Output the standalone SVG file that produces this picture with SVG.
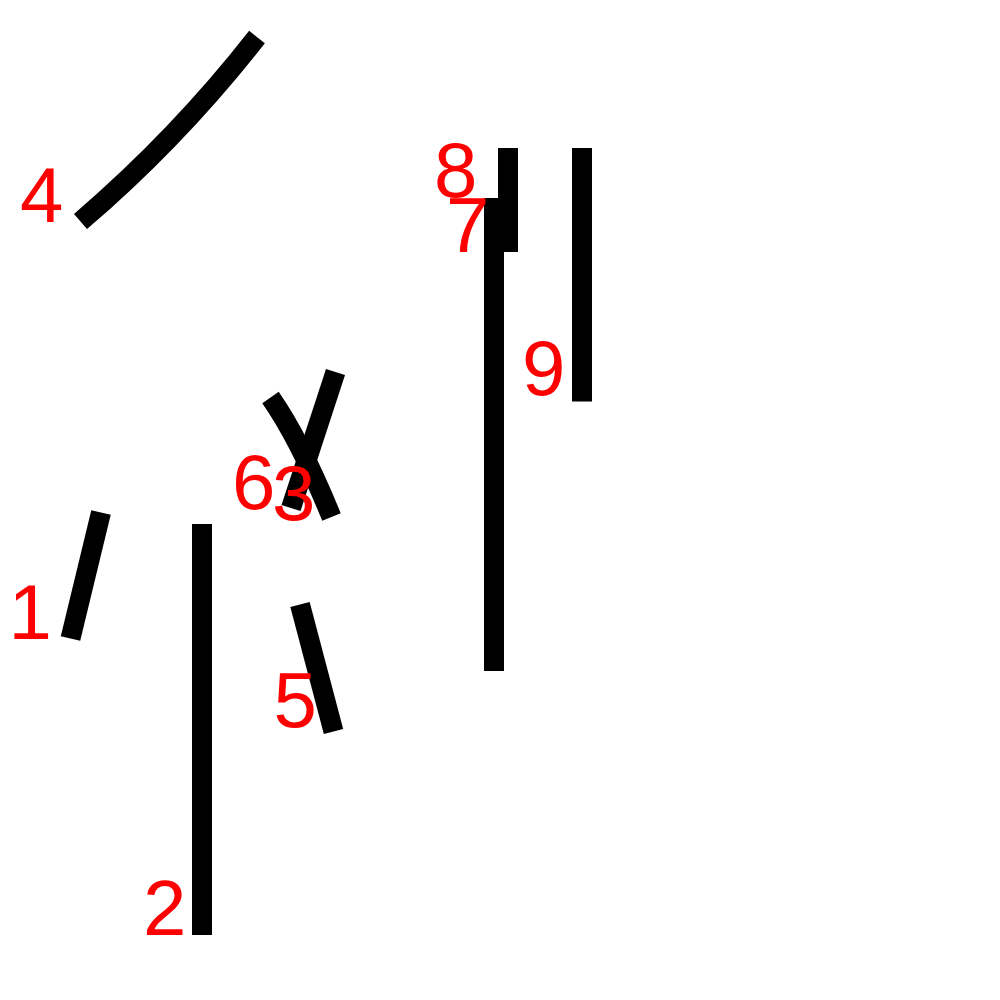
<svg xmlns="http://www.w3.org/2000/svg" width="1000" height="1000" viewBox="0 0 1000 1000">
<style>
.s{fill:none;stroke:#000;stroke-width:20;stroke-linecap:butt}
.l{font-family:"Liberation Sans",Arial,sans-serif;font-size:78px;fill:#f00}
</style>
<rect width="1000" height="1000" fill="#fff"/>
<g id="strokes">
<path id="s1" class="s" d="M101,512.5 L70.5,638.5"/>
<path id="s2" class="s" d="M202,524 L202,935"/>
<path id="s3" class="s" d="M270.5,397.5 Q300,440 331.5,517"/>
<path id="s4" class="s" d="M80.5,221.5 Q178,138 257,37"/>
<path id="s5" class="s" d="M300,604.5 L333.5,731.5"/>
<path id="s6" class="s" d="M335.5,372 L291,508"/>
<path id="s7" class="s" d="M494,198 L494,671"/>
<path id="s8" class="s" d="M508,148 L508,252"/>
<path id="s9" class="s" d="M582,148 L582,401.5"/>
</g>
<g id="labels">
<text class="l" x="8.5" y="639">1</text>
<text class="l" x="143" y="935">2</text>
<text class="l" x="272" y="520">3</text>
<text class="l" x="20" y="222">4</text>
<text class="l" x="273.5" y="727">5</text>
<text class="l" x="232" y="509">6</text>
<text class="l" x="446" y="252">7</text>
<text class="l" x="434" y="197">8</text>
<text class="l" x="522" y="395">9</text>
</g>
</svg>
